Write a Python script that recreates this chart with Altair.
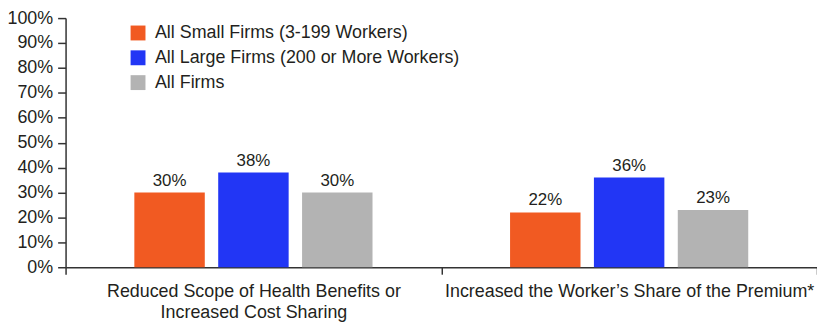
import json
import altair as alt
import pandas as pd

categories = [
    "Reduced Scope of Health Benefits or Increased Cost Sharing",
    "Increased the Worker’s Share of the Premium*",
]
category_lines = [
    ["Reduced Scope of Health Benefits or", "Increased Cost Sharing"],
    ["Increased the Worker’s Share of the Premium*"],
]
series = [
    "All Small Firms (3-199 Workers)",
    "All Large Firms (200 or More Workers)",
    "All Firms",
]
small_firms = [30, 22]
large_firms = [38, 36]
all_firms = [30, 23]
colors = ["#F15A22", "#2236F5", "#B3B3B3"]
y_ticks = list(range(0, 101, 10))

rows = []
for i, c in enumerate(categories):
    for s, vals in zip(series, [small_firms, large_firms, all_firms]):
        rows.append({"cat": c, "series": s, "value": vals[i]})
df = pd.DataFrame(rows)

FONT = "Liberation Sans"
TXT = "#231F20"

label_expr = (
    "datum.value == " + json.dumps(categories[0]) + " ? " + json.dumps(category_lines[0])
    + " : datum.label"
)

x_enc = alt.X(
    "cat:N",
    sort=categories,
    scale=alt.Scale(paddingInner=0, paddingOuter=0),
    axis=alt.Axis(
        title=None,
        labelAngle=0,
        tickBand="extent",
        labelExpr=label_expr,
        labelFont=FONT,
        labelFontSize=18,
        labelColor=TXT,
        labelLineHeight=22,
        labelPadding=8,
        labelLimit=600,
        tickSize=7,
        tickColor="#333333",
        tickWidth=1.5,
        domainColor="#333333",
        domainWidth=1.5,
        grid=False,
    ),
)
xo_enc = alt.XOffset(
    "series:N", sort=series, scale=alt.Scale(paddingInner=0.16, paddingOuter=0.82)
)
y_enc = alt.Y(
    "value:Q",
    scale=alt.Scale(domain=[0, 100], nice=False),
    axis=alt.Axis(
        title=None,
        values=y_ticks,
        labelExpr="datum.value + '%'",
        labelFont=FONT,
        labelFontSize=18,
        labelColor=TXT,
        labelPadding=5,
        tickSize=8,
        tickColor="#333333",
        tickWidth=1.5,
        domainColor="#333333",
        domainWidth=1.5,
        grid=False,
    ),
)
color_enc = alt.Color(
    "series:N",
    sort=series,
    scale=alt.Scale(domain=series, range=colors),
    legend=alt.Legend(
        title=None,
        orient="none",
        legendX=64,
        legendY=6,
        symbolType="square",
        symbolSize=225,
        symbolStrokeWidth=0,
        symbolOpacity=1,
        labelFont=FONT,
        labelFontSize=18,
        labelColor=TXT,
        labelOffset=8,
        rowPadding=7,
        labelLimit=600,
    ),
)

base = alt.Chart(df).encode(x=x_enc, xOffset=xo_enc, y=y_enc)

bars = base.mark_bar(opacity=1).encode(color=color_enc)
labels = base.transform_calculate(lbl="datum.value + '%'").mark_text(
    font=FONT, fontSize=17, color=TXT, baseline="alphabetic", dy=-7
).encode(text="lbl:N")

chart = (
    alt.layer(bars, labels)
    .properties(
        width=757,
        height=251,
        autosize=alt.AutoSizeParams(type="none"),
        padding={"left": 58, "top": 9, "right": 0, "bottom": 55},
        background="white",
    )
    .configure_view(stroke=None)
)

chart.save("out.html", embed_options={"renderer": "svg", "actions": False})
